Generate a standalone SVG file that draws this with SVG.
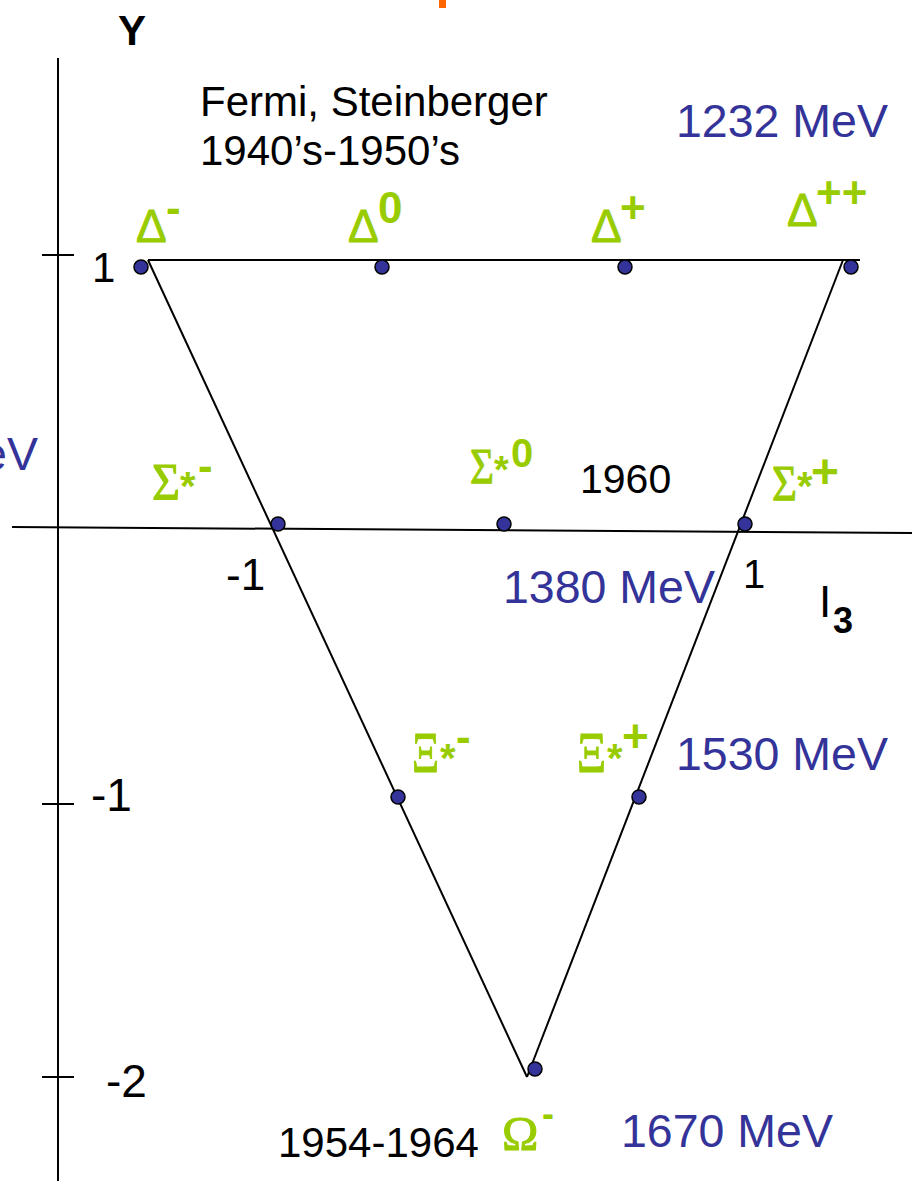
<svg xmlns="http://www.w3.org/2000/svg" width="921" height="1181" viewBox="0 0 921 1181">
<style>
.ln{stroke:#000;stroke-width:2;fill:none}
.dot{fill:#333399;stroke:#000;stroke-width:1.5}
.t{font-family:"Liberation Sans",Arial,sans-serif;fill:#000}
.b{font-family:"Liberation Sans",Arial,sans-serif;fill:#333399;font-size:46.5px}
.g{font-family:"Liberation Sans",Arial,sans-serif;fill:#99cc00;stroke:#99cc00;stroke-width:0.8}
.gs{font-family:"Liberation Serif","Times New Roman",serif;fill:#99cc00;stroke:#99cc00;stroke-width:1}
.sup{font-family:"Liberation Sans",Arial,sans-serif;fill:#99cc00;font-weight:bold}
</style>
<rect width="921" height="1181" fill="#fff"/>
<rect x="439" y="0" width="7" height="8" fill="#ff6600"/>
<g id="connectors">
<path class="ln" d="M58 58V1181"/>
<path class="ln" d="M42 255H74M42 804H74M42 1077H74"/>
<path class="ln" d="M12 527L912 533"/>
<path class="ln" d="M148 260H860"/>
<path class="ln" d="M148 260L527 1077"/>
<path class="ln" d="M843 260L527 1077"/>
</g>
<g id="axis-labels">
<text class="t" x="132" y="45" font-size="42" font-weight="bold" text-anchor="middle">Y</text>
<text class="t" x="92" y="282" font-size="42">1</text>
<text class="t" x="91" y="811" font-size="46">-1</text>
<text class="t" x="106" y="1097" font-size="46">-2</text>
<text class="t" x="226" y="590" font-size="44">-1</text>
<text class="t" x="743" y="588" font-size="40">1</text>
<text class="t" x="819" y="617" font-size="44">I</text>
<text class="t" x="833" y="633" font-size="36" font-weight="bold">3</text>
</g>
<g id="notes">
<text class="t" x="200" y="116" font-size="42">Fermi, Steinberger</text>
<text class="t" x="200" y="165" font-size="42">1940’s-1950’s</text>
<text class="t" x="580" y="493" font-size="41">1960</text>
<text class="t" x="278" y="1157" font-size="42">1954-1964</text>
<text class="b" x="676" y="137">1232 MeV</text>
<text class="b" x="38" y="470" text-anchor="end">eV</text>
<text class="b" x="503" y="603">1380 MeV</text>
<text class="b" x="676" y="770">1530 MeV</text>
<text class="b" x="621" y="1147">1670 MeV</text>
</g>
<g id="delta-minus">
<circle class="dot" cx="141" cy="267" r="7"/>
<text class="g" x="136" y="242" font-size="46">Δ</text>
<text class="sup" x="166" y="223" font-size="44">-</text>
</g>
<g id="delta-zero">
<circle class="dot" cx="382" cy="267" r="7"/>
<text class="g" x="348" y="242" font-size="46">Δ</text>
<text class="sup" x="378" y="223" font-size="44">0</text>
</g>
<g id="delta-plus">
<circle class="dot" cx="625" cy="267" r="7"/>
<text class="g" x="591" y="242" font-size="46">Δ</text>
<text class="sup" x="620" y="223" font-size="44">+</text>
</g>
<g id="delta-plusplus">
<circle class="dot" cx="851" cy="267" r="7"/>
<text class="g" x="787" y="226" font-size="46">Δ</text>
<text class="sup" x="816" y="208" font-size="44">++</text>
</g>
<g id="sigma-minus">
<circle class="dot" cx="278" cy="524" r="7"/>
<text class="gs" x="152" y="500" font-size="53" textLength="28" lengthAdjust="spacingAndGlyphs">Σ</text>
<text class="sup" x="180" y="500" font-size="40">*</text>
<text class="sup" x="198" y="481" font-size="44">-</text>
</g>
<g id="sigma-zero">
<circle class="dot" cx="504" cy="524" r="7"/>
<text class="gs" x="470" y="483" font-size="50" textLength="24" lengthAdjust="spacingAndGlyphs">Σ</text>
<text class="sup" x="494" y="483" font-size="38">*</text>
<text class="sup" x="511" y="467" font-size="40">0</text>
</g>
<g id="sigma-plus">
<circle class="dot" cx="745" cy="524" r="7"/>
<text class="gs" x="772" y="500" font-size="51" textLength="25" lengthAdjust="spacingAndGlyphs">Σ</text>
<text class="sup" x="797" y="500" font-size="40">*</text>
<text class="sup" x="811" y="488" font-size="48">+</text>
</g>
<g id="xi-minus">
<circle class="dot" cx="398" cy="797" r="7"/>
<text class="gs" x="412" y="772" font-size="56" textLength="27" lengthAdjust="spacingAndGlyphs">Ξ</text>
<text class="sup" x="440" y="772" font-size="40">*</text>
<text class="sup" x="456" y="752" font-size="44">-</text>
</g>
<g id="xi-plus">
<circle class="dot" cx="639" cy="797" r="7"/>
<text class="gs" x="577" y="772" font-size="56" textLength="29" lengthAdjust="spacingAndGlyphs">Ξ</text>
<text class="sup" x="607" y="772" font-size="40">*</text>
<text class="sup" x="622" y="752" font-size="46">+</text>
</g>
<g id="omega-minus">
<circle class="dot" cx="535" cy="1069" r="7"/>
<text class="gs" x="502" y="1150" font-size="49">Ω</text>
<text class="sup" x="542" y="1126" font-size="36">-</text>
</g>
</svg>
